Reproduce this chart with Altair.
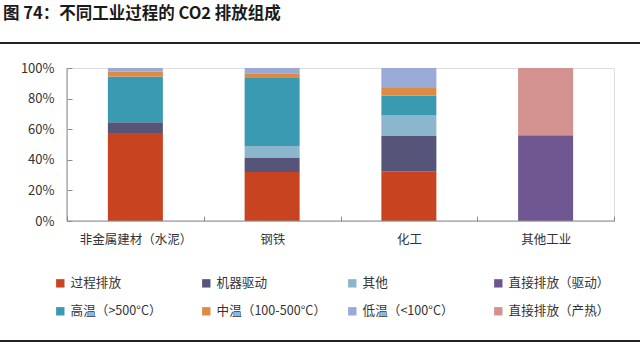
import altair as alt
import pandas as pd

industries = ["非金属建材（水泥）", "钢铁", "化工", "其他工业"]
sources = ["过程排放", "机器驱动", "其他", "直接排放（驱动）",
           "高温（>500°C）", "中温（100-500°C）", "低温（<100°C）", "直接排放（产热）"]
colors = ["#C8431F", "#565479", "#8BB6CB", "#6E5690",
          "#3A9AB2", "#DE8A40", "#9AAAD6", "#D39190"]

# percentages per industry, in the order of `sources`
cement   = [57.5, 7.0, 0.0, 0.0, 30.0, 3.0, 2.5, 0.0]
steel    = [32.0, 9.5, 7.5, 0.0, 44.5, 3.0, 3.5, 0.0]
chemical = [32.5, 23.0, 13.5, 0.0, 13.0, 5.0, 13.0, 0.0]
other    = [0.0, 0.0, 0.0, 56.0, 0.0, 0.0, 0.0, 44.0]

title_text = "图 74：不同工业过程的 CO2 排放组成"

rows = []
for ind, vals in zip(industries, [cement, steel, chemical, other]):
    for i, (s, v) in enumerate(zip(sources, vals)):
        rows.append({"industry": ind, "source": s, "value": v, "order": i})
df = pd.DataFrame(rows)

W, H = 547, 153
FONT = "Noto Sans CJK SC"

bars = alt.Chart(df).mark_bar(size=55).encode(
    x=alt.X("industry:N", sort=industries, title=None,
            scale=alt.Scale(paddingInner=0, paddingOuter=0),
            axis=alt.Axis(labelAngle=0, domain=False, ticks=True, tickSize=5,
                          offset=-5, tickBand="extent", tickColor="#8c8c8c",
                          labelPadding=12, labelFontSize=12.5, labelColor="#333333",
                          labelFont=FONT)),
    y=alt.Y("value:Q", stack="normalize", title=None,
            scale=alt.Scale(domain=[0, 1]),
            axis=alt.Axis(format="%", values=[0, 0.2, 0.4, 0.6, 0.8, 1.0],
                          domain=False, grid=False, ticks=True, tickSize=5,
                          offset=-5, tickColor="#8c8c8c", labelPadding=13,
                          labelFontSize=13, labelColor="#333333", labelFont=FONT)),
    color=alt.Color("source:N", sort=sources,
                    scale=alt.Scale(domain=sources, range=colors),
                    legend=alt.Legend(title=None, orient="none", legendX=-13, legendY=209,
                                      direction="horizontal",
                                      columns=4, gridAlign="all", columnPadding=20,
                                      rowPadding=15, symbolType="square", symbolSize=70,
                                      symbolStrokeWidth=0, labelFontSize=12.6,
                                      labelFont=FONT, labelColor="#333333",
                                      labelLimit=200)),
    order=alt.Order("order:Q"),
)

one = pd.DataFrame({"t": [title_text]})

x_domain = alt.Chart(one).mark_rule(color="#8c8c8c", strokeWidth=1).encode(
    x=alt.value(0), x2=alt.value(W), y=alt.value(H))
y_domain = alt.Chart(one).mark_rule(color="#8c8c8c", strokeWidth=1).encode(
    x=alt.value(0), y=alt.value(0), y2=alt.value(H))

title = alt.Chart(one).mark_text(align="left", baseline="middle", fontSize=16.5,
                                 fontWeight="bold", font=FONT, color="#1a1a1a").encode(
    text="t:N", x=alt.value(-64), y=alt.value(-54))

top_line = alt.Chart(one).mark_rule(color="#222222", strokeWidth=2).encode(
    x=alt.value(-67), x2=alt.value(W + 26), y=alt.value(-25))
bottom_line = alt.Chart(one).mark_rule(color="#222222", strokeWidth=2).encode(
    x=alt.value(-67), x2=alt.value(W + 26), y=alt.value(273))

chart = alt.layer(bars, x_domain, y_domain, title, top_line, bottom_line).properties(
    width=W, height=H,
    padding={"left": 67, "top": 68, "right": 26, "bottom": 127},
    autosize=alt.AutoSizeParams(type="none"),
).configure_view(stroke=None).configure(background="white")

chart.save("out.html", embed_options={"renderer": "svg", "actions": False})
